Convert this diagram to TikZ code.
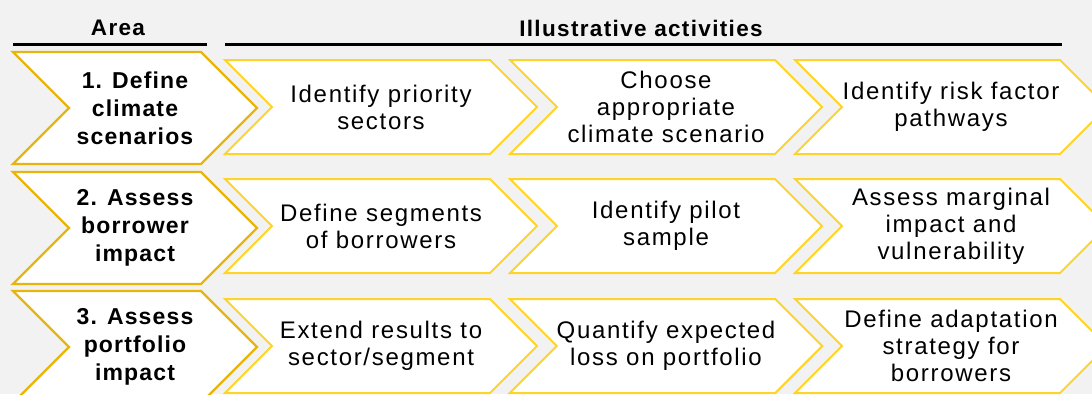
\documentclass[tikz,border=0pt]{standalone}
\usepackage{fontspec}
\setmainfont{Liberation Sans}
\newfontfamily\headfont{Liberation Sans}[LetterSpace=6]
\newfontfamily\areafont{Liberation Sans}[LetterSpace=5]
\newfontfamily\actfont{Liberation Sans}[LetterSpace=7]
\usetikzlibrary{shapes.symbols}
\definecolor{bggray}{HTML}{F2F2F2}
\definecolor{areagold}{HTML}{E8B50C}
\definecolor{actyellow}{HTML}{FFD42A}
\tikzset{
  chevron/.style={signal, signal from=west, signal to=east, signal pointer angle=90, inner sep=0pt, align=center},
  areabox/.style={chevron, draw=areagold, line width=2.2pt, fill=white, minimum width=244pt, minimum height=112pt, font=\areafont\fontsize{23}{28}\selectfont\bfseries},
  actbox/.style={chevron, draw=actyellow, line width=2pt, fill=white, minimum width=312pt, minimum height=94pt, font=\actfont\fontsize{24}{27}\selectfont},
  headtext/.style={font=\headfont\fontsize{22.5}{24}\selectfont\bfseries},
  headline/.style={line width=3pt}
}
\begin{document}
\begin{tikzpicture}[x=1pt,y=-1pt]
            \fill[bggray] (0,0) rectangle (1092,394);
            \useasboundingbox (0,0) rectangle (1092,394);
            % headers
            \node[headtext] (areahead) at (118,28) {Area};
            \node[headtext] (acthead) at (641,28) {Illustrative activities};
            \coordinate (areaL) at (13,44);
            \coordinate (areaR) at (207,44);
            \coordinate (actL) at (225,44);
            \coordinate (actR) at (1062,44);
            \draw[headline] (areaL) -- (areaR);
            \draw[headline] (actL) -- (actR);
            % areas
            \node[areabox] (area1) at (135,108) {1. Define\\climate\\scenarios};
            \node[areabox] (area2) at (135,228) {2. Assess\\borrower\\impact};
            \node[areabox] (area3) at (135,347) {3. Assess\\portfolio\\impact};
            % activities
            \node[actbox] (act11) at (381,107) {Identify priority\\sectors};
            \node[actbox] (act12) at (666,107) {Choose\\appropriate\\climate scenario};
            \node[actbox] (act13) at (951,107) {Identify risk factor\\pathways};
            \node[actbox] (act21) at (381,226) {Define segments\\of borrowers};
            \node[actbox] (act22) at (666,226) {Identify pilot\\sample};
            \node[actbox] (act23) at (951,226) {Assess marginal\\impact and\\vulnerability};
            \node[actbox] (act31) at (381,346) {Extend results to\\sector/segment};
            \node[actbox] (act32) at (666,346) {Quantify expected\\loss on portfolio};
            \node[actbox] (act33) at (951,346) {Define adaptation\\strategy for\\borrowers};
        \end{tikzpicture}
\end{document}
